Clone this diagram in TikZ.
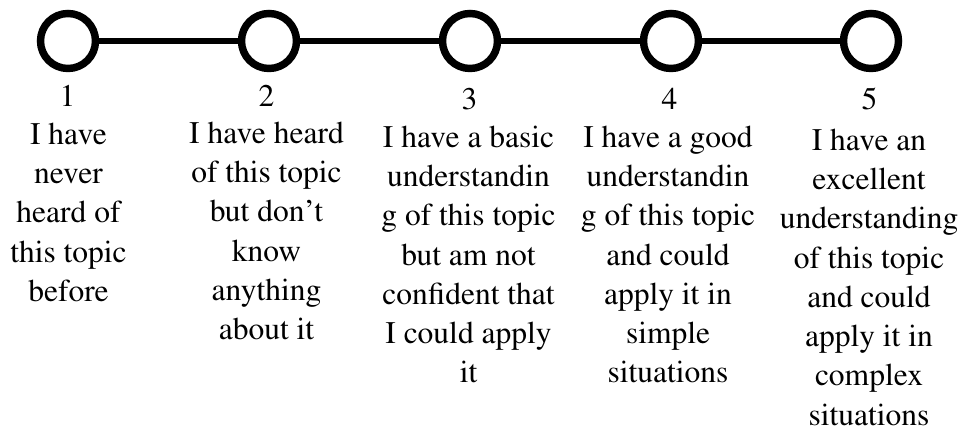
\documentclass[tikz,border=0pt]{standalone}
\usepackage[T1]{fontenc}
\usepackage{times}
\usepackage{tikz}
\usetikzlibrary{positioning}

\begin{document}
\begin{tikzpicture}[x=0.025cm,y=-0.025cm]
  \tikzstyle{vertex}=[circle,draw=black,fill=white,line width=5.3pt,minimum size=1.375cm,inner sep=0pt]
  \tikzstyle{score}=[font=\fontsize{22.4}{27.95}\selectfont,anchor=base,inner sep=0pt]
  \tikzstyle{descr}=[font=\fontsize{22.4}{27.95}\selectfont,align=center,anchor=north,inner sep=0pt]
  \useasboundingbox (0,0) rectangle (964,431);

  \node[vertex](c1) at (68,41) {};
  \node[vertex](c2) at (269,41) {};
  \node[vertex](c3) at (470,41) {};
  \node[vertex](c4) at (671,41) {};
  \node[vertex](c5) at (871,41) {};
  \draw[line width=4.6pt](c1) -- (c2);
  \draw[line width=4.6pt](c2) -- (c3);
  \draw[line width=4.6pt](c3) -- (c4);
  \draw[line width=4.6pt](c4) -- (c5);

  \node[score](n1) at (67.5,107) {1};
  \node[score](n2) at (266.5,107) {2};
  \node[score](n3) at (469.5,110) {3};
  \node[score](n4) at (669.5,110) {4};
  \node[score](n5) at (869.5,110) {5};

  \node[descr](d1) at (68.5,122.5) {I have\\never\\heard of\\this topic\\before};
  \node[descr](d2) at (266.5,121.5) {I have heard\\of this topic\\but don't\\know\\anything\\about it};
  \node[descr](d3) at (468.5,125.5) {I have a basic\\understandin\\g of this topic\\but am not\\confident that\\I could apply\\it};
  \node[descr](d4) at (668,125.5) {I have a good\\understandin\\g of this topic\\and could\\apply it in\\simple\\situations};
  \node[descr](d5) at (869,128.5) {I have an\\excellent\\understanding\\of this topic\\and could\\apply it in\\complex\\situations};
\end{tikzpicture}
\end{document}
